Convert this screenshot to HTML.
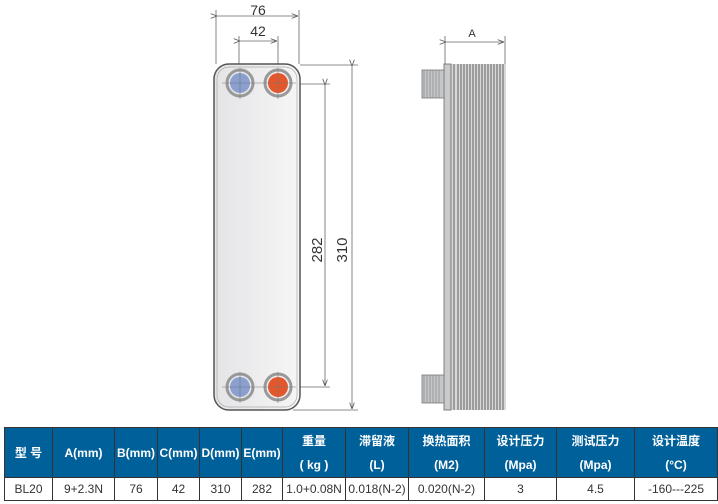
<!DOCTYPE html>
<html><head><meta charset="utf-8"><style>
body{margin:0;background:#fff;width:718px;height:504px;overflow:hidden;font-family:"Liberation Sans","Noto Sans CJK SC",sans-serif}
table{position:absolute;left:4px;top:427px;width:713px;border-collapse:collapse;table-layout:fixed;font-size:12px}
td{border:1px solid #333;text-align:center;padding:0;overflow:hidden;white-space:nowrap}
tr.h td{background:#00609a;color:#fff;height:49px;line-height:24px;font-weight:bold}
tr.d td{height:22px;color:#333}
</style></head><body>
<svg width="718" height="427" style="position:absolute;left:0;top:0" font-family="Liberation Sans,sans-serif">
<defs>
<linearGradient id="pl" x1="0" x2="1"><stop offset="0" stop-color="#e4e4e6"/><stop offset="1" stop-color="#f6f6f7"/></linearGradient>
<marker id="ar" markerWidth="8" markerHeight="6" refX="8" refY="3" orient="auto"><path d="M0,0L8,3L0,6" fill="none" stroke="#555"/></marker>
</defs>
<g stroke="#666" stroke-width="0.8" fill="none">
<line x1="216" y1="10" x2="216" y2="64"/><line x1="299" y1="10" x2="299" y2="64"/>
<line x1="217" y1="16" x2="298" y2="16" marker-start="url(#ar)" marker-end="url(#ar)"/>
<line x1="239" y1="36" x2="239" y2="70"/><line x1="278" y1="36" x2="278" y2="70"/>
<line x1="240" y1="41" x2="277" y2="41" marker-start="url(#ar)" marker-end="url(#ar)"/>
<line x1="300" y1="65" x2="358" y2="65"/><line x1="293" y1="410" x2="358" y2="410"/>
<line x1="352" y1="66" x2="352" y2="409" marker-start="url(#ar)" marker-end="url(#ar)"/>
<line x1="300" y1="84" x2="330" y2="84"/><line x1="300" y1="387" x2="330" y2="387"/>
<line x1="325" y1="85" x2="325" y2="386" marker-start="url(#ar)" marker-end="url(#ar)"/>
<line x1="445" y1="36" x2="445" y2="66"/><line x1="505" y1="36" x2="505" y2="66"/>
<line x1="446" y1="42" x2="504" y2="42" marker-start="url(#ar)" marker-end="url(#ar)"/>
</g>
<text x="258" y="15" font-size="14" text-anchor="middle" fill="#333">76</text>
<text x="258" y="36" font-size="14" text-anchor="middle" fill="#333">42</text>
<text x="472" y="37" font-size="11" text-anchor="middle" fill="#333">A</text>
<text transform="translate(322,250) rotate(-90)" font-size="15" text-anchor="middle" fill="#333">282</text>
<text transform="translate(347,250) rotate(-90)" font-size="15" text-anchor="middle" fill="#333">310</text>
<rect x="214" y="64" width="86" height="346" rx="15" fill="url(#pl)" stroke="#555" stroke-width="1.5"/>
<rect x="217" y="67" width="80" height="340" rx="12" fill="none" stroke="#aaa" stroke-width="0.7"/>
<g stroke="#999" stroke-width="3" fill="none">
<circle cx="240" cy="83" r="13"/><circle cx="278" cy="83" r="13"/><circle cx="240" cy="387" r="13"/><circle cx="278" cy="387" r="13"/></g>
<g>
<circle cx="240" cy="83" r="10" fill="#8b9fd0"/><circle cx="278" cy="83" r="10" fill="#e4572a"/>
<circle cx="240" cy="387" r="10" fill="#8b9fd0"/><circle cx="278" cy="387" r="10" fill="#e4572a"/></g>
<g stroke="#777" stroke-width="0.6">
<line x1="222" y1="83" x2="296" y2="83"/><line x1="222" y1="387" x2="296" y2="387"/>
<line x1="240" y1="68" x2="240" y2="99"/><line x1="278" y1="68" x2="278" y2="99"/>
<line x1="240" y1="372" x2="240" y2="403"/><line x1="278" y1="372" x2="278" y2="403"/></g>
<rect x="444" y="64" width="62" height="346" fill="#d8d8d8"/>
<rect x="444" y="64" width="7" height="346" fill="#c8cacc" stroke="#666" stroke-width="0.8"/>
<g stroke="#555" stroke-width="0.9">
<line x1="454" y1="64" x2="454" y2="410"/><line x1="458" y1="64" x2="458" y2="410"/><line x1="461" y1="64" x2="461" y2="410"/><line x1="464" y1="64" x2="464" y2="410"/><line x1="467" y1="64" x2="467" y2="410"/><line x1="470" y1="64" x2="470" y2="410"/><line x1="473" y1="64" x2="473" y2="410"/><line x1="476" y1="64" x2="476" y2="410"/><line x1="479" y1="64" x2="479" y2="410"/><line x1="482" y1="64" x2="482" y2="410"/><line x1="485" y1="64" x2="485" y2="410"/><line x1="488" y1="64" x2="488" y2="410"/><line x1="491" y1="64" x2="491" y2="410"/><line x1="494" y1="64" x2="494" y2="410"/><line x1="497" y1="64" x2="497" y2="410"/><line x1="500" y1="64" x2="500" y2="410"/><line x1="503" y1="64" x2="503" y2="410"/></g>
<rect x="422" y="70" width="22" height="28" fill="#c4c6c8" stroke="#777" stroke-width="0.8"/>
<rect x="422" y="375" width="22" height="28" fill="#c4c6c8" stroke="#777" stroke-width="0.8"/>
<g stroke="#888" stroke-width="0.7">
<line x1="424" y1="70" x2="424" y2="98"/><line x1="427" y1="70" x2="427" y2="98"/><line x1="430" y1="70" x2="430" y2="98"/><line x1="433" y1="70" x2="433" y2="98"/><line x1="436" y1="70" x2="436" y2="98"/><line x1="439" y1="70" x2="439" y2="98"/>
<line x1="424" y1="375" x2="424" y2="403"/><line x1="427" y1="375" x2="427" y2="403"/><line x1="430" y1="375" x2="430" y2="403"/><line x1="433" y1="375" x2="433" y2="403"/><line x1="436" y1="375" x2="436" y2="403"/><line x1="439" y1="375" x2="439" y2="403"/></g>
</svg>
<table>
<colgroup><col style="width:48px"><col style="width:62px"><col style="width:43px"><col style="width:42px"><col style="width:42px"><col style="width:41px"><col style="width:63px"><col style="width:63px"><col style="width:76px"><col style="width:72px"><col style="width:78px"><col style="width:83px"></colgroup>
<tr class="h"><td>型 号</td><td>A(mm)</td><td>B(mm)</td><td>C(mm)</td><td>D(mm)</td><td>E(mm)</td><td>重量<br>( kg )</td><td>滞留液<br>(L)</td><td>换热面积<br>(M2)</td><td>设计压力<br>(Mpa)</td><td>测试压力<br>(Mpa)</td><td>设计温度<br>(°C)</td></tr>
<tr class="d"><td>BL20</td><td>9+2.3N</td><td>76</td><td>42</td><td>310</td><td>282</td><td>1.0+0.08N</td><td>0.018(N-2)</td><td>0.020(N-2)</td><td>3</td><td>4.5</td><td>-160---225</td></tr>
</table>
</body></html>
